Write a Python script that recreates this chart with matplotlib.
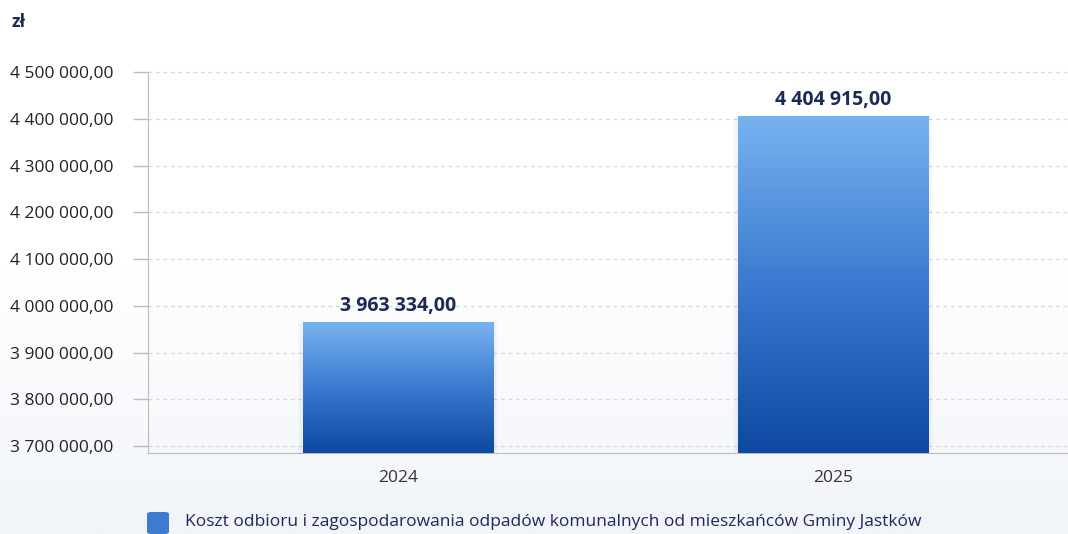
import numpy as np
import matplotlib
matplotlib.use("Agg")
import matplotlib.pyplot as plt
import matplotlib.colors as mcolors
from matplotlib.patches import Rectangle, FancyBboxPatch

plt.rcParams["font.family"] = ["Open Sans", "DejaVu Sans"]

# data
years = ["2024", "2025"]
costs = [3963334.00, 4404915.00]
y_ticks = [3700000, 3800000, 3900000, 4000000, 4100000, 4200000, 4300000, 4400000, 4500000]
unit = "zł"
legend_label = "Koszt odbioru i zagospodarowania odpadów komunalnych od mieszkańców Gminy Jastków"

NAVY = "#1b2a57"
TOP_BLUE = "#78b2f0"
BOT_BLUE = "#0e48a0"
BAR_W = 0.437


def pl_money(v):
    s = f"{v:,.2f}"
    return s.replace(",", " ").replace(".", ",")


fig = plt.figure(figsize=(10.68, 5.34), dpi=100, facecolor="white")

# faint background wash toward the bottom
bg = fig.add_axes([0, 0, 1, 1], zorder=-10)
bg.axis("off")
wash = np.linspace(0, 1, 256)[:, None]
bg_cmap = mcolors.LinearSegmentedColormap.from_list("bg", ["#ffffff", "#ffffff", "#f1f4f9"])
bg.imshow(wash, cmap=bg_cmap, aspect="auto", extent=[0, 1, 0, 1], origin="upper")
bg.set_xlim(0, 1)
bg.set_ylim(0, 1)

ax = fig.add_axes([148 / 1068, 1 - 453 / 534, 1 - 148 / 1068, (453 - 44) / 534])
ax.patch.set_alpha(0)

ymin, ymax = 3685000, 4560000

grad_cmap = mcolors.LinearSegmentedColormap.from_list("bar", [BOT_BLUE, "#3a7ad0", TOP_BLUE])
grad = np.linspace(0, 1, 256)[:, None]

x = np.arange(len(years))
for xi, val in zip(x, costs):
    # soft shadow
    for k, a in [(0.012, 0.03), (0.006, 0.04)]:
        ax.add_patch(Rectangle((xi - BAR_W / 2 - k, ymin), BAR_W + 2 * k, val - ymin + k * 12000,
                               facecolor="#5070a0", alpha=a, edgecolor="none", zorder=2))
    ax.imshow(grad, cmap=grad_cmap, aspect="auto", origin="lower",
              extent=[xi - BAR_W / 2, xi + BAR_W / 2, ymin, val], zorder=3)
    ax.text(xi, val + 14000, pl_money(val), ha="center", va="bottom",
            fontsize=14, fontweight="bold", color=NAVY, zorder=4)

ax.set_xlim(-0.575, 1.54)
ax.set_ylim(ymin, ymax)

ax.set_yticks(y_ticks)
ax.set_yticklabels([pl_money(t) for t in y_ticks], fontsize=12.5, color="#222222")
ax.set_xticks(x)
ax.set_xticklabels(years, fontsize=12.5, color="#333333")
ax.tick_params(axis="y", length=11, width=1, color="#bbbbbb", pad=14)
ax.tick_params(axis="x", length=0, pad=12)

ax.grid(axis="y", linestyle=(0, (3, 3)), color="#d8d8d8", linewidth=0.9, zorder=0)
ax.set_axisbelow(True)
for side in ["top", "right"]:
    ax.spines[side].set_visible(False)
ax.spines["left"].set_color("#bbbbbb")
ax.spines["left"].set_bounds(ymin, y_ticks[-1])
ax.spines["bottom"].set_color("#bbbbbb")

fig.text(12 / 1068, 1 - 22 / 534, unit, fontsize=12.5, fontweight="bold", color=NAVY,
         ha="left", va="center")

# legend
lg = FancyBboxPatch((147 / 1068, 1 - 534 / 534), 22 / 1068, 22 / 534,
                    boxstyle="round,pad=0,rounding_size=0.004",
                    transform=fig.transFigure, facecolor="#3d7bd0", edgecolor="none")
fig.patches.append(lg)
fig.text(185 / 1068, 1 - 522 / 534, legend_label, fontsize=12.5, color=NAVY,
         ha="left", va="center")

fig.savefig("out.png", dpi=100, facecolor="white")
